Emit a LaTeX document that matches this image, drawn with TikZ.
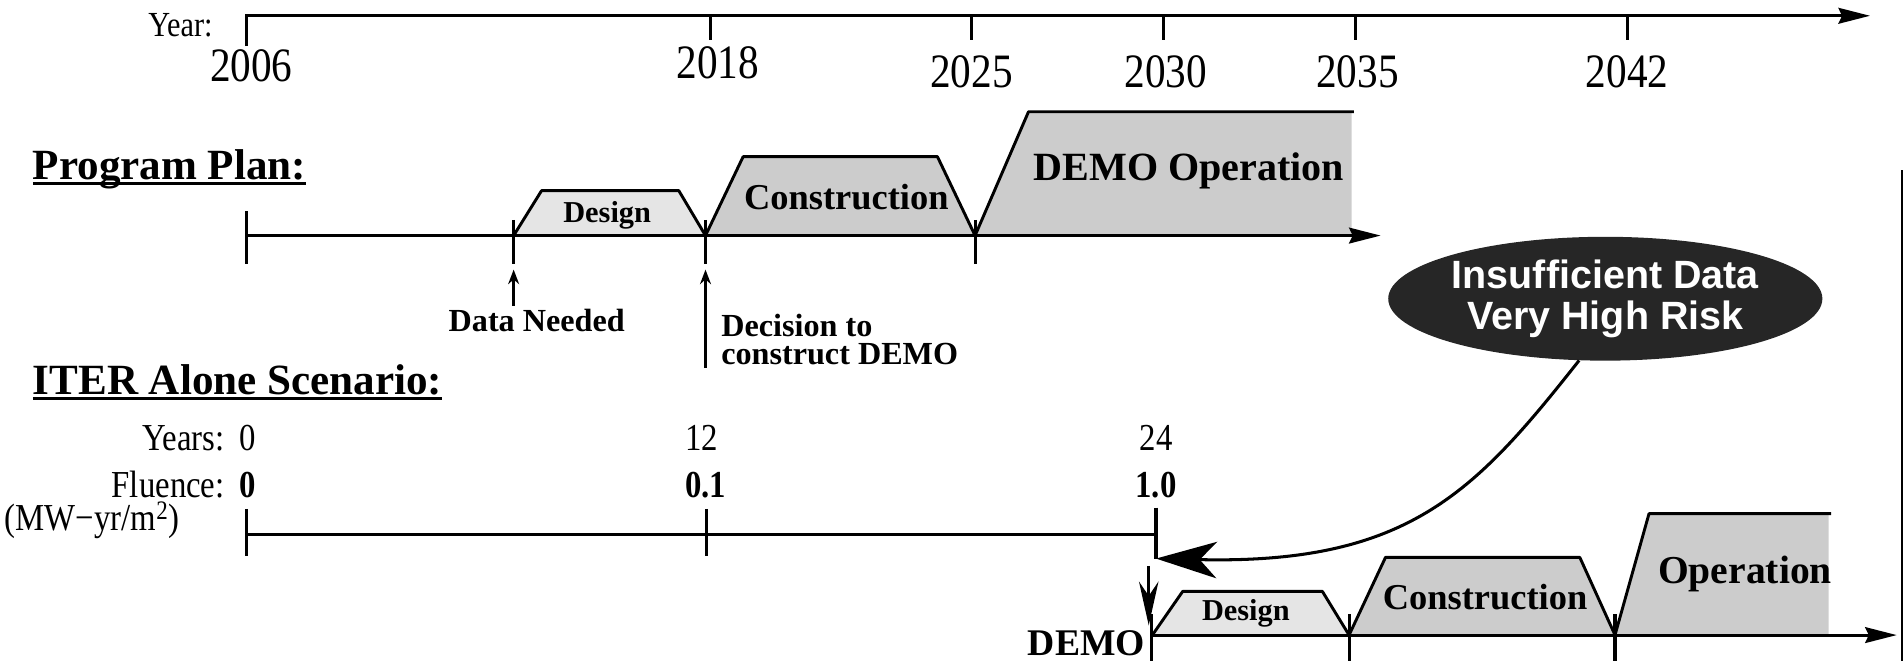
\documentclass[tikz,border=0pt]{standalone}
\usepackage{fontspec}
\setmainfont{Liberation Serif}
\newfontfamily\condrm[FakeStretch=0.86]{Liberation Serif}
\newfontfamily\sansfam{Liberation Sans}
\usetikzlibrary{arrows.meta,shapes.geometric}
\newcommand\fsz[1]{\fontsize{#1}{#1}\selectfont}
\begin{document}
\begin{tikzpicture}[x=1pt,y=-1pt,
  axis/.style={line width=2.4pt},
  tickln/.style={line width=2.6pt},
  bigtip/.style={-{Stealth[length=26pt,width=13pt,inset=3pt]}},
  smalltip/.style={line width=2pt,-{Stealth[length=12pt,width=9pt]}},
  lbl/.style={inner sep=0pt, outer sep=0pt},
  yrlbl/.style={lbl, font=\condrm\fsz{39.5}},
  rmlbl/.style={lbl, font=\condrm\fsz{31.4}},
  rmblbl/.style={lbl, font=\condrm\bfseries\fsz{31.4}},
  phase/.style={line width=2.4pt, line join=round},
  light/.style={fill=gray!20},
  dark/.style={fill=gray!40},
  uline/.style={line width=2pt},
]
\useasboundingbox (0,0) rectangle (1568,544.3);

% ---------- top year axis ----------
\coordinate (ys) at (203,13);
\coordinate (ye) at (1540,13);
\coordinate (ysb) at (203,38);
\draw[axis, bigtip, line join=miter] (ysb) -- (ys) -- (ye);
\foreach \x in {585,800,958,1116,1340} \draw[tickln] (\x,13) -- (\x,33);
\node[lbl, anchor=east, font=\condrm\fsz{29}] (yearlbl) at (175,21) {Year:};
\node[yrlbl] (y2006) at (207,54) {2006};
\node[yrlbl] (y2018) at (591,52) {2018};
\node[yrlbl] (y2025) at (800,59) {2025};
\node[yrlbl] (y2030) at (960,59) {2030};
\node[yrlbl] (y2035) at (1118,59) {2035};
\node[yrlbl] (y2042) at (1340,59) {2042};

% ---------- Program plan ----------
\node[lbl, anchor=base west, font=\bfseries\fsz{35.5}] (pp) at (27,148) {Program Plan:};
\draw[uline] ([yshift=-3pt]pp.base west) -- ([yshift=-3pt]pp.base east);

\fill[light] (423,194) -- (446,157) -- (559,157) -- (581,194) -- cycle;
\fill[dark] (581,194) -- (612,129) -- (772,129) -- (803,194) -- cycle;
\fill[dark] (803,194) -- (847,92) -- (1113,92) -- (1113,194) -- cycle;
\draw[phase] (423,194) -- (446,157) -- (559,157) -- (581,194);
\draw[phase] (581,194) -- (612,129) -- (772,129) -- (803,194);
\draw[phase] (803,194) -- (847,92) -- (1115,92);
\node[lbl, font=\bfseries\fsz{25}] (pdesign) at (500,177) {Design};
\node[lbl, font=\bfseries\fsz{30}] (pconstr) at (697,162) {Construction};
\node[lbl, font=\bfseries\fsz{33}] (pdemoop) at (979,141) {DEMO Operation};

\coordinate (pstart) at (203,194);
\coordinate (pend) at (1137,194);
\draw[axis, bigtip] (pstart) -- (pend);
\draw[tickln] (203,174) -- (203,217);
\foreach \x in {423,581,803} \draw[tickln] (\x,181) -- (\x,217);

\node[lbl, anchor=base, font=\bfseries\fsz{26.5}] (dn) at (442,273) {Data Needed};
\coordinate (dntip) at (423,222);
\draw[smalltip] ([yshift=3pt]dn.north -| dntip) -- (dntip);

\node[lbl, anchor=north west, align=left, font=\bfseries\fontsize{26.5}{23}\selectfont]
  (dec) at (594,259) {Decision to\\construct DEMO};
\coordinate (dectip) at (581,222);
\coordinate (decfoot) at (581,303);
\draw[smalltip] (decfoot) -- (dectip);

% ---------- ITER alone ----------
\node[lbl, anchor=base west, font=\bfseries\fsz{35.5}] (iter) at (27,325) {ITER Alone Scenario:};
\draw[uline] ([yshift=-3pt]iter.base west) -- ([yshift=-3pt]iter.base east);

\node[rmlbl, anchor=base east] (yrs) at (185,371) {Years:};
\node[rmlbl, anchor=base] (yr0) at (204,371) {0};
\node[rmlbl, anchor=base] (yr12) at (578,371) {12};
\node[rmlbl, anchor=base] (yr24) at (952,371) {24};
\node[rmlbl, anchor=base east] (flu) at (185,410) {Fluence:};
\node[rmblbl, anchor=base] (fl0) at (204,410) {0};
\node[rmblbl, anchor=base] (fl1) at (581,410) {0.1};
\node[rmblbl, anchor=base] (fl2) at (952,410) {1.0};
\node[rmlbl, anchor=base west] (unit) at (4,437) {(MW−yr/m\textsuperscript{2})};

\coordinate (istart) at (203,440);
\coordinate (iend) at (952,440);
\draw[axis] (istart) -- (iend);
\draw[tickln] (203,419) -- (203,458);
\draw[tickln] (582,419) -- (582,458);
\draw[tickln] (952,418) -- (952,460);

% ---------- risk callout ----------
\node[ellipse, fill=black!85, minimum width=290pt, minimum height=102pt, inner sep=0pt,
      text=white, align=center, font=\sansfam\bfseries\fontsize{32.5}{34}\selectfont]
      (risk) at (1322,246) {Insufficient Data\\Very High Risk};
\coordinate (iterend) at (952,460);
\draw[line width=2.5pt, -{Stealth[length=50pt,width=30pt,inset=14pt]}]
  (risk.-113) .. controls (1215,405) and (1160,465) .. (iterend);

% ---------- DEMO row ----------
\fill[light] (949,523) -- (974,487) -- (1089,487) -- (1111,523) -- cycle;
\fill[dark] (1111,523) -- (1141,459) -- (1301,459) -- (1330,523) -- cycle;
\fill[dark] (1330,523) -- (1358,423) -- (1506,423) -- (1506,523) -- cycle;
\draw[phase] (949,523) -- (974,487) -- (1089,487) -- (1111,523);
\draw[phase] (1111,523) -- (1141,459) -- (1301,459) -- (1330,523);
\draw[phase] (1330,523) -- (1358,423) -- (1508,423);
\node[lbl, font=\bfseries\fsz{25}] (ddesign) at (1026,505) {Design};
\node[lbl, font=\bfseries\fsz{30}] (dconstr) at (1223,492) {Construction};
\node[lbl, font=\bfseries\fsz{32.6}] (doper) at (1437,473) {Operation};

\node[lbl, anchor=base east, font=\bfseries\fsz{31}] (demo) at (943,540) {DEMO};
\coordinate (dstart) at (948,523);
\coordinate (dend) at (1562,523);
\draw[axis, bigtip] (dstart) -- (dend);
\foreach \x in {948,1111,1330} \draw[tickln] (\x,506) -- (\x,544.3);
\coordinate (dtop) at (946,466);
\coordinate (dtip) at (946,515);
\draw[line width=2.4pt, -{Stealth[length=36pt,width=16pt]}] (dtop) -- (dtip);

% right border
\draw[line width=1.6pt] (1566,140) -- (1566,544.3);
\end{tikzpicture}
\end{document}
